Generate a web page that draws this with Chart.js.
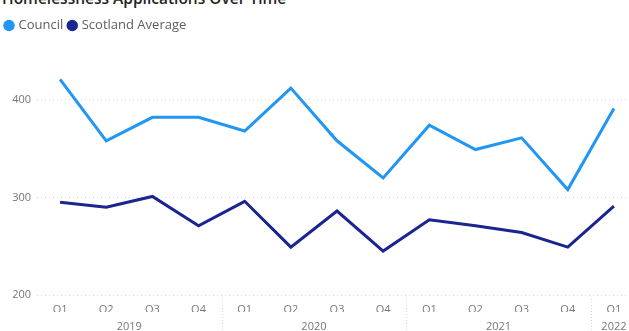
<!DOCTYPE html>
<html>
<head>
<meta charset="utf-8">
<script src="https://cdn.jsdelivr.net/npm/chart.js@4.4.0/dist/chart.umd.min.js"></script>
<style>
    html, body { margin: 0; padding: 0; background: #fff; overflow: hidden; }
    #wrap { position: relative; width: 629px; height: 331px; overflow: hidden; }
    #title {
        position: absolute; left: 2px; top: -13px;
        font-family: "Open Sans", sans-serif; font-size: 15.5px; font-weight: 600;
        color: #252423; white-space: nowrap;
    }
    #box { position: absolute; left: 0; top: 0; width: 640px; height: 331px; }
</style>
</head>
<body>
<div id="wrap">
    <div id="title">Homelessness Applications Over Time</div>
    <div id="box"><canvas id="lineChart"></canvas></div>
</div>
<script>
// ============================================================
//  DATA
// ============================================================
const quarters = ["Q1", "Q2", "Q3", "Q4", "Q1", "Q2", "Q3", "Q4", "Q1", "Q2", "Q3", "Q4", "Q1"];
const years = ["2019", "2020", "2021", "2022"];
const yearCenters = [1.5, 5.5, 9.5, 12];
const yearBreaks = [3.5, 7.5, 11.5];
const councilValues = [421, 358, 382, 382, 368, 412, 358, 320, 374, 349, 361, 308, 391];
const scotlandValues = [295, 290, 301, 271, 296, 249, 286, 245, 277, 271, 264, 249, 291];
const yTicks = [200, 300, 400];

const tickColor = "#777";
const gridColor = "#d6d6d6";
const fontFamily = "'Open Sans', sans-serif";

// dotted separators between years, in the axis area
const yearSeparators = {
    id: "yearSeparators",
    afterDraw(chart) {
        const ctx = chart.ctx;
        const x2 = chart.scales.x2;
        const top = chart.scales.x.top + 4;
        ctx.save();
        ctx.strokeStyle = gridColor;
        ctx.lineWidth = 1;
        ctx.setLineDash([1, 2]);
        yearBreaks.forEach(v => {
            const px = Math.round(x2.getPixelForValue(v)) + 0.5;
            ctx.beginPath();
            ctx.moveTo(px, top);
            ctx.lineTo(px, chart.height);
            ctx.stroke();
        });
        ctx.restore();
    }
};

// extra gap under the legend
const legendGap = {
    id: "legendGap",
    beforeInit(chart) {
        const fit = chart.legend.fit;
        chart.legend.fit = function () {
            fit.bind(chart.legend)();
            this.height += 9;
        };
    }
};

new Chart(document.getElementById("lineChart"), {
    type: "line",
    data: {
        labels: quarters,
        datasets: [
            {
                label: "Council",
                data: councilValues,
                borderColor: "#2196F3",
                backgroundColor: "#2196F3",
                borderWidth: 3,
                pointRadius: 0,
                tension: 0
            },
            {
                label: "Scotland Average",
                data: scotlandValues,
                borderColor: "#1B2590",
                backgroundColor: "#1B2590",
                borderWidth: 3,
                pointRadius: 0,
                tension: 0
            }
        ]
    },
    options: {
        responsive: true,
        maintainAspectRatio: false,
        animation: false,
        layout: { padding: { top: 13, left: 0, right: 3, bottom: 0 } },
        plugins: {
            tooltip: { enabled: false },
            legend: {
                align: "start",
                labels: {
                    usePointStyle: true,
                    pointStyle: "circle",
                    boxWidth: 6,
                    boxHeight: 6,
                    padding: 6,
                    color: "#605E5C",
                    font: { family: fontFamily, size: 13 }
                }
            }
        },
        scales: {
            x: {
                type: "category",
                offset: true,
                grid: { display: false },
                border: { display: false },
                ticks: {
                    color: tickColor,
                    padding: 0,
                    maxRotation: 0,
                    autoSkip: false,
                    font: { family: fontFamily, size: 11 }
                },
                afterFit(scale) { scale.height = 17; }
            },
            x2: {
                type: "linear",
                position: "bottom",
                min: -0.5,
                max: 12.5,
                grid: { display: false },
                border: { display: false },
                afterBuildTicks(scale) {
                    scale.ticks = yearCenters.map(v => ({ value: v }));
                },
                ticks: {
                    color: tickColor,
                    padding: 0,
                    maxRotation: 0,
                    autoSkip: false,
                    font: { family: fontFamily, size: 11 },
                    callback: (v) => years[yearCenters.indexOf(v)]
                },
                afterFit(scale) { scale.height = 19; }
            },
            y: {
                min: 200,
                max: 450,
                afterBuildTicks(scale) {
                    scale.ticks = yTicks.map(v => ({ value: v }));
                },
                grid: {
                    color: gridColor,
                    drawTicks: false
                },
                border: { display: false, dash: [1, 3] },
                ticks: {
                    color: tickColor,
                    padding: 6,
                    font: { family: fontFamily, size: 11 }
                },
                afterFit(scale) { scale.width = 37; }
            }
        }
    },
    plugins: [yearSeparators, legendGap]
});
</script>
</body>
</html>
